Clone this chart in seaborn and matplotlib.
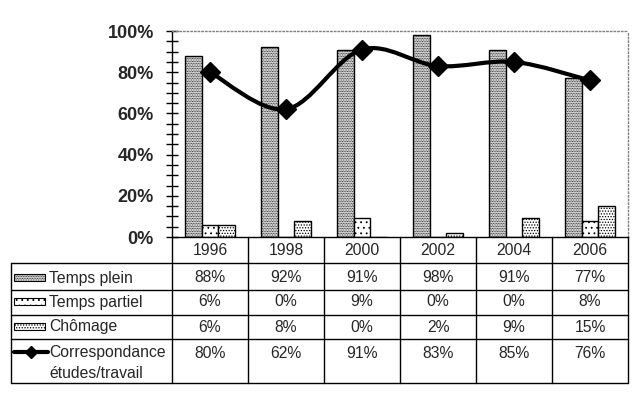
import numpy as np
import pandas as pd
import seaborn as sns
import matplotlib.pyplot as plt
from matplotlib.path import Path
from matplotlib.patches import PathPatch, Rectangle
from matplotlib.lines import Line2D
from matplotlib.ticker import MultipleLocator, FuncFormatter
from matplotlib.transforms import blended_transform_factory

# donnees
annees = ["1996", "1998", "2000", "2002", "2004", "2006"]
temps_plein = [88, 92, 91, 98, 91, 77]
temps_partiel = [6, 0, 9, 0, 0, 8]
chomage = [6, 8, 0, 2, 9, 15]
correspondance = [80, 62, 91, 83, 85, 76]
series = ["Temps plein", "Temps partiel", "Chômage"]
hachures = ["..........", "...", "......"]

df = pd.DataFrame({
    "annee": annees * 3,
    "serie": np.repeat(series, len(annees)),
    "valeur": temps_plein + temps_partiel + chomage,
})

sns.set_style("white")
plt.rcParams["font.family"] = ["Liberation Sans", "DejaVu Sans"]
plt.rcParams["hatch.linewidth"] = 0.6

fig = plt.figure(figsize=(6.4, 4), dpi=100)
W, H = 640, 400
ax = fig.add_axes([172 / W, 1 - 237 / H, (628 - 172) / W, (237 - 31) / H])

sns.barplot(data=df, x="annee", y="valeur", hue="serie", order=annees,
            hue_order=series, palette=["white"] * 3, edgecolor="black",
            linewidth=1, width=0.66, errorbar=None, legend=False, ax=ax)
for cont, h in zip(ax.containers, hachures):
    for p in cont:
        p.set_hatch(h)

# courbe lissee (Catmull-Rom -> Bezier)
pts = np.column_stack([np.arange(len(annees)), correspondance]).astype(float)
ext = np.vstack([pts[0], pts, pts[-1]])
verts = [tuple(pts[0])]
codes = [Path.MOVETO]
for i in range(len(pts) - 1):
    p0, p1, p2, p3 = ext[i], ext[i + 1], ext[i + 2], ext[i + 3]
    c1 = p1 + (p2 - p0) / 6
    c2 = p2 - (p3 - p1) / 6
    verts += [tuple(c1), tuple(c2), tuple(p2)]
    codes += [Path.CURVE4] * 3
ax.add_patch(PathPatch(Path(verts, codes), fill=False, lw=3, edgecolor="black", zorder=4))
ax.plot(range(len(annees)), correspondance, ls="none", marker="D", ms=10,
        color="black", zorder=5)

ax.set_xlim(-0.5, 5.5)
ax.set_ylim(0, 100)
ax.set_xticks([])
ax.set_xlabel("")
ax.set_ylabel("")
ax.yaxis.set_major_locator(MultipleLocator(20))
ax.yaxis.set_minor_locator(MultipleLocator(5))
ax.yaxis.set_major_formatter(FuncFormatter(lambda v, p: f"{v:.0f}%"))
ax.tick_params(axis="y", which="both", direction="inout", length=8, width=1,
               left=True, color="black")
ax.tick_params(axis="y", which="major", pad=9, labelsize=13)
for lab in ax.get_yticklabels():
    lab.set_fontweight("bold")
for s in ["left", "bottom"]:
    ax.spines[s].set_color("black")
    ax.spines[s].set_linewidth(1)
for s in ["top", "right"]:
    ax.spines[s].set_color("gray")
    ax.spines[s].set_linestyle(":")
    ax.spines[s].set_linewidth(1)

# tableau de donnees
def fy(y):
    return 1 - y / H

def fx(x):
    return x / W

tr = blended_transform_factory(ax.transData, fig.transFigure)
lignes = [263, 290, 315, 339, 383]
kw = dict(color="black", lw=1, clip_on=False)
for y in lignes:
    fig.add_artist(Line2D([fx(11), fx(628)], [fy(y), fy(y)], **kw))
fig.add_artist(Line2D([fx(11), fx(11)], [fy(263), fy(383)], **kw))
for x in np.arange(-0.5, 6, 1):
    ax.add_line(Line2D([x, x], [fy(237), fy(383)], transform=tr, **kw))

fs = 11.3
valeurs = [temps_plein, temps_partiel, chomage, correspondance]
centres = [278, 302, 327, 353]
for j, a in enumerate(annees):
    ax.text(j, fy(251), a, transform=tr, ha="center", va="center", fontsize=fs)
    for vals, yc in zip(valeurs, centres):
        ax.text(j, fy(yc), f"{vals[j]}%", transform=tr, ha="center",
                va="center", fontsize=fs)

for nom, h, yc in zip(series, hachures, centres[:3]):
    fig.add_artist(Rectangle((fx(14), fy(yc + 3)), fx(31), 7 / H,
                             facecolor="white", edgecolor="black", lw=0.8,
                             hatch=h, transform=fig.transFigure))
    fig.text(fx(49), fy(yc), nom, ha="left", va="center", fontsize=fs)
fig.add_artist(Line2D([fx(14), fx(48)], [fy(352), fy(352)], color="black", lw=3))
fig.add_artist(Line2D([fx(31)], [fy(352)], color="black", marker="D", ms=6))
fig.text(fx(49), fy(352), "Correspondance", ha="left", va="center", fontsize=fs)
fig.text(fx(49), fy(374), "études/travail", ha="left", va="center", fontsize=fs)

fig.savefig("out.png", dpi=100)
